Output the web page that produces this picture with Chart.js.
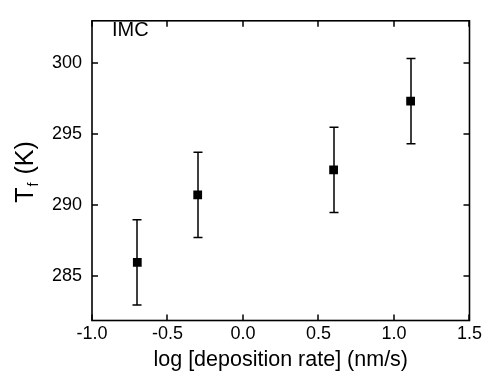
<!DOCTYPE html>
<html>
<head>
<meta charset="utf-8">
<script src="https://cdn.jsdelivr.net/npm/chart.js@4.4.1/dist/chart.umd.min.js"></script>
<style>
    html, body { margin: 0; padding: 0; background: #fff; }
    #wrap { width: 485px; height: 373px; }
</style>
</head>
<body>
<div id="wrap"><canvas id="tfChart" width="485" height="373"></canvas></div>
<script>
// data
const logRates = [-0.7, -0.3, 0.6, 1.11];
const fictiveTemps = [286.0, 290.75, 292.5, 297.35];
const tempErrors = [3.0, 3.0, 3.0, 3.0];
const yTickValues = [285, 290, 295, 300];
const xTickValues = [-1.0, -0.5, 0.0, 0.5, 1.0, 1.5];

const FONT = "'Liberation Sans', Arial, sans-serif";

// frame, inside ticks on all four sides, error bars, labels
const framePlugin = {
    id: "frame",
    afterDatasetsDraw(chart) {
        const ctx = chart.ctx;
        const area = chart.chartArea;
        const xs = chart.scales.x;
        const ys = chart.scales.y;
        ctx.save();

        // error bars
        ctx.strokeStyle = "#000";
        ctx.lineWidth = 1.5;
        logRates.forEach((x, i) => {
            const px = Math.round(xs.getPixelForValue(x));
            const top = ys.getPixelForValue(fictiveTemps[i] + tempErrors[i]);
            const bot = ys.getPixelForValue(fictiveTemps[i] - tempErrors[i]);
            ctx.beginPath();
            ctx.moveTo(px, top); ctx.lineTo(px, bot);
            ctx.moveTo(px - 4.5, top); ctx.lineTo(px + 4.5, top);
            ctx.moveTo(px - 4.5, bot); ctx.lineTo(px + 4.5, bot);
            ctx.stroke();
        });

        // box
        ctx.lineWidth = 1.6;
        ctx.strokeRect(area.left, area.top, area.right - area.left, area.bottom - area.top);

        // ticks
        const tl = 6;
        ctx.lineWidth = 1.5;
        ctx.beginPath();
        xTickValues.forEach(v => {
            const px = Math.round(xs.getPixelForValue(v));
            ctx.moveTo(px, area.bottom); ctx.lineTo(px, area.bottom - tl);
            ctx.moveTo(px, area.top); ctx.lineTo(px, area.top + tl);
        });
        yTickValues.forEach(v => {
            const py = Math.round(ys.getPixelForValue(v));
            ctx.moveTo(area.left, py); ctx.lineTo(area.left + tl, py);
            ctx.moveTo(area.right, py); ctx.lineTo(area.right - tl, py);
        });
        ctx.stroke();

        // panel label
        ctx.fillStyle = "#000";
        ctx.font = "20px " + FONT;
        ctx.textBaseline = "middle";
        ctx.textAlign = "left";
        ctx.fillText("IMC", 112, 30);

        // y title T_f (K)
        ctx.translate(24, 172);
        ctx.rotate(-Math.PI / 2);
        ctx.textBaseline = "alphabetic";
        ctx.font = "25px " + FONT;
        const wT = ctx.measureText("T").width;
        ctx.font = "14px " + FONT;
        const wF = ctx.measureText("f").width;
        ctx.font = "25px " + FONT;
        const wK = ctx.measureText(" (K)").width;
        const x0 = -(wT + wF + 2 + wK) / 2;
        ctx.fillText("T", x0, 9);
        ctx.font = "14px " + FONT;
        ctx.fillText("f", x0 + wT + 1, 14);
        ctx.font = "25px " + FONT;
        ctx.fillText(" (K)", x0 + wT + wF + 2, 9);
        ctx.restore();
    }
};

new Chart(document.getElementById("tfChart").getContext("2d"), {
    type: "scatter",
    data: {
        datasets: [{
            data: logRates.map((x, i) => ({ x: x, y: fictiveTemps[i] })),
            pointStyle: "rect",
            pointRadius: 6.2,
            pointBackgroundColor: "#000",
            pointBorderColor: "#000",
            pointBorderWidth: 0,
            showLine: false
        }]
    },
    options: {
        responsive: false,
        animation: false,
        layout: { padding: { top: 10, right: 14, left: 0, bottom: 0 } },
        plugins: {
            legend: { display: false },
            tooltip: { enabled: false }
        },
        scales: {
            x: {
                type: "linear",
                min: -1.0,
                max: 1.5,
                afterBuildTicks: axis => { axis.ticks = xTickValues.map(v => ({ value: v })); },
                afterFit: axis => { axis.height = 52.5; },
                grid: { display: false, drawTicks: false },
                border: { display: false },
                ticks: {
                    padding: 3,
                    color: "#000",
                    font: { family: FONT, size: 18 },
                    callback: v => v.toFixed(1)
                },
                title: {
                    display: true,
                    text: "log [deposition rate] (nm/s)",
                    color: "#000",
                    font: { family: FONT, size: 21.5 },
                    padding: { top: 0, bottom: 0 }
                }
            },
            y: {
                type: "linear",
                min: 281.9,
                max: 303.0,
                afterBuildTicks: axis => { axis.ticks = yTickValues.map(v => ({ value: v })); },
                afterFit: axis => { axis.width = 92; },
                grid: { display: false, drawTicks: false },
                border: { display: false },
                ticks: {
                    padding: 10,
                    color: "#000",
                    font: { family: FONT, size: 18 }
                }
            }
        }
    },
    plugins: [framePlugin]
});
</script>
</body>
</html>
